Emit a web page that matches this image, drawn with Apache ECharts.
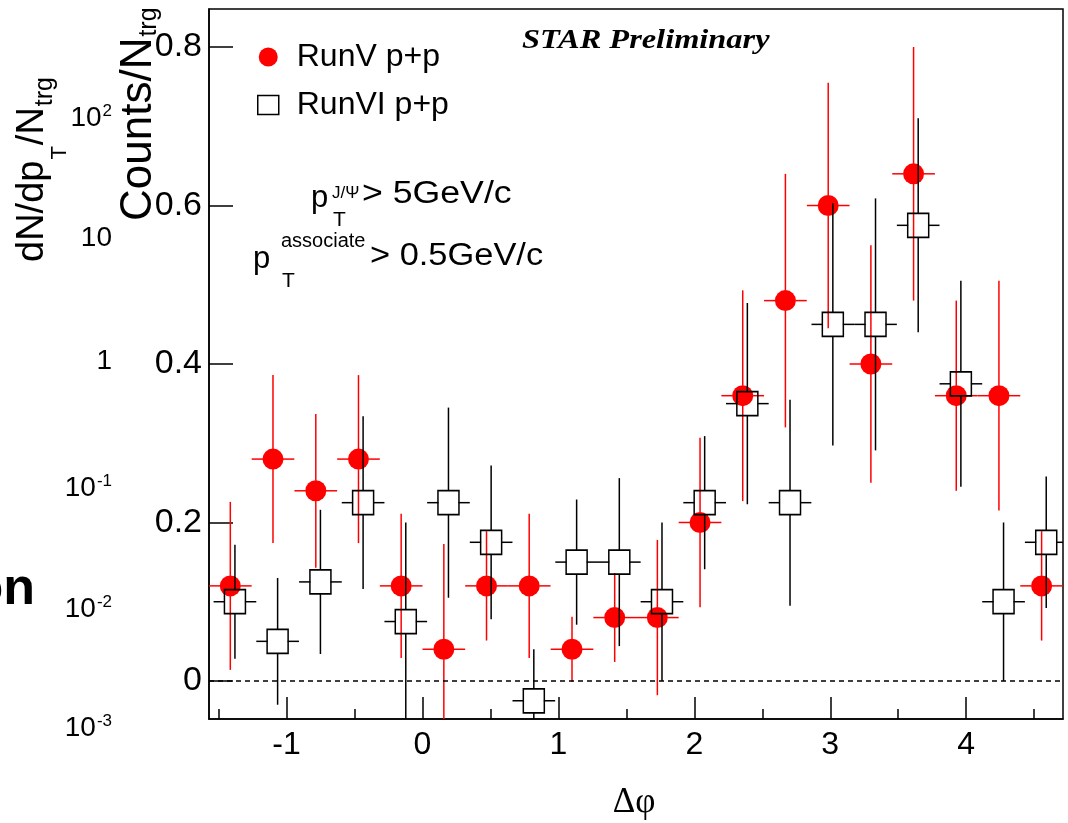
<!DOCTYPE html>
<html>
<head>
<meta charset="utf-8">
<title>J/psi - hadron azimuthal correlation</title>
<script src="https://cdn.jsdelivr.net/npm/echarts@6/dist/echarts.min.js"></script>
<style>
  html, body { margin: 0; padding: 0; background: #fff; }
  #chart { width: 1068px; height: 823px; }
</style>
</head>
<body>
<div id="chart"></div>
<script>
// Delta-phi bin centres and per-trigger counts, with symmetric statistical errors
const phiRunV = [-1.414, -1.100, -0.785, -0.471, -0.157, 0.157, 0.471, 0.785, 1.100, 1.414,
                 1.728, 2.042, 2.356, 2.670, 2.985, 3.299, 3.613, 3.927, 4.241, 4.555];
const countsRunV = [0.12, 0.28, 0.24, 0.28, 0.12, 0.04, 0.12, 0.12, 0.04, 0.08,
                    0.08, 0.20, 0.36, 0.48, 0.60, 0.40, 0.64, 0.36, 0.36, 0.12];
const errRunV = [0.106, 0.106, 0.097, 0.106, 0.091, 0.133, 0.069, 0.091, 0.041, 0.056,
                 0.098, 0.107, 0.133, 0.160, 0.155, 0.150, 0.160, 0.120, 0.145, 0.069];

const phiRunVI = [-1.380, -1.066, -0.751, -0.437, -0.123, 0.191, 0.505, 0.819, 1.134, 1.448,
                  1.762, 2.076, 2.390, 2.704, 3.019, 3.333, 3.647, 3.961, 4.275, 4.589];
const countsRunVI = [0.100, 0.050, 0.125, 0.225, 0.075, 0.225, 0.175, -0.025, 0.150, 0.150,
                     0.100, 0.225, 0.350, 0.225, 0.450, 0.450, 0.575, 0.375, 0.100, 0.175];
const errRunVI = [0.072, 0.080, 0.091, 0.109, 0.125, 0.120, 0.097, 0.065, 0.079, 0.106,
                  0.100, 0.084, 0.127, 0.130, 0.153, 0.159, 0.135, 0.130, 0.100, 0.083];

const binHalfWidth = 0.157;   // half of the pi/10 bin width

// Axis ticks
const xTickValues = [-1, 0, 1, 2, 3, 4];
const xMinorTickValues = [-1.5, -0.5, 0.5, 1.5, 2.5, 3.5, 4.5];
const yTickValues = [0, 0.2, 0.4, 0.6, 0.8];

// Leftover log-scale labels from the neighbouring panel
const logTickBases = ['10', '10', '1', '10', '10', '10'];
const logTickExponents = ['2', '', '', '-1', '-2', '-3'];

const SANS = '"Liberation Sans", Arial, Helvetica, sans-serif';
const SERIF = '"Liberation Serif", "Times New Roman", serif';

const measureCtx = document.createElement('canvas').getContext('2d');
function textWidth(text, font) {
  measureCtx.font = font;
  return measureCtx.measureText(text).width;
}
function fontStr(size, o) {
  o = o || {};
  return (o.style || 'normal') + ' ' + (o.weight || 'normal') + ' ' + size + 'px ' + (o.family || SANS);
}
// Text element placed by its baseline
function label(text, x, baseline, size, o) {
  o = o || {};
  return {
    type: 'text', x: x, y: baseline - 0.33 * size,
    scaleX: o.scaleX || 1, scaleY: o.scaleY || 1, originY: 0.33 * size,
    silent: true, z: 20,
    style: { text: text, font: fontStr(size, o), fill: '#000',
             textAlign: o.align || 'left', textVerticalAlign: 'middle' }
  };
}

// Error bars drawn around each marker, leaving a gap for the marker itself
function errorBarSeries(name, xs, ys, errs, color, gapX, gapY, z) {
  return {
    type: 'custom', name: name, z: z, silent: true, clip: true,
    data: xs.map((x, i) => [x, ys[i], errs[i]]),
    encode: { x: 0, y: 1 },
    renderItem: function (params, api) {
      const x = api.value(0), y = api.value(1), e = api.value(2);
      const cs = params.coordSys;
      const yTop = cs.y, yBot = cs.y + cs.height;
      const c = api.coord([x, y]);
      const up = api.coord([x, y + e]);
      const dn = api.coord([x, y - e]);
      const lf = api.coord([x - binHalfWidth, y]);
      const rt = api.coord([x + binHalfWidth, y]);
      const clampY = v => Math.max(yTop, Math.min(yBot, v));
      const segs = [];
      if (up[1] < c[1] - gapY) segs.push([c[0], c[1] - gapY, c[0], clampY(up[1])]);
      if (dn[1] > c[1] + gapY) segs.push([c[0], c[1] + gapY, c[0], clampY(dn[1])]);
      segs.push([c[0] - gapX, c[1], lf[0], c[1]]);
      segs.push([c[0] + gapX, c[1], rt[0], c[1]]);
      return {
        type: 'group',
        children: segs.map(s => ({
          type: 'line',
          shape: { x1: s[0], y1: s[1], x2: s[2], y2: s[3] },
          style: { stroke: color, lineWidth: 1.5 }
        }))
      };
    }
  };
}

// Free-standing texts
const graphics = [];
graphics.push(label('STAR Preliminary', 522, 50, 27,
  { family: SERIF, weight: 'bold', style: 'italic', scaleX: 1.2 }));

// p_T^{J/Psi} > 5GeV/c
graphics.push(label('p', 311, 209, 31));
graphics.push(label('J/\u03A8', 332, 199, 17));
graphics.push(label('T', 333, 227, 21));
graphics.push(label('> 5GeV/c', 362, 205, 31, { scaleX: 1.15 }));
// p_T^{associate} > 0.5GeV/c
graphics.push(label('p', 253, 270, 31));
graphics.push(label('associate', 281, 248, 20));
graphics.push(label('T', 282, 288, 21));
graphics.push(label('> 0.5GeV/c', 370, 267, 31, { scaleX: 1.11 }));

// x-axis title
graphics.push(label('\u0394\u03C6', 634, 814, 35, { family: SERIF, align: 'center' }));

// y-axis title, rotated
const titleSize = 44;
const wCounts = textWidth('Counts/N', fontStr(titleSize));
graphics.push({
  type: 'group', x: 153, y: 221, rotation: Math.PI / 2, silent: true,
  children: [label('Counts/N', 0, 0, titleSize), label('trg', wCounts + 1, 4, 25)]
});

// Neighbouring panel: dN/dp_T/N_trg title
const lt = 38;
const w1 = textWidth('dN/dp', fontStr(lt));
const w2 = textWidth('T', fontStr(22));
const w3 = textWidth('/N', fontStr(lt));
graphics.push({
  type: 'group', x: 45, y: 262, rotation: Math.PI / 2, silent: true,
  children: [
    label('dN/dp', 0, 0, lt),
    label('T', w1 + 1, 22, 22),
    label('/N', w1 + w2 + 2, 0, lt),
    label('trg', w1 + w2 + w3 + 3, 8, 25)
  ]
});

// Neighbouring panel: log-scale tick labels, right aligned
const logBaselines = [128, 248, 371, 498, 619, 738];
logTickBases.forEach((b, i) => {
  const sup = logTickExponents[i];
  const right = 112;
  const ws = sup ? textWidth(sup, fontStr(17)) : 0;
  if (sup) graphics.push(label(sup, right, logBaselines[i] - 11, 17, { align: 'right' }));
  graphics.push(label(b, right - ws - (sup ? 1 : 0), logBaselines[i], 28, { align: 'right' }));
});
// Neighbouring panel: cut-off bold word
graphics.push(label('on', 35, 607, 52, { weight: 'bold', align: 'right' }));

const option = {
  animation: false,
  backgroundColor: '#fff',
  grid: {
    left: 209, right: 5, top: 9, bottom: 104,
    show: true, borderColor: '#000', borderWidth: 1.5, backgroundColor: 'transparent'
  },
  legend: {
    orient: 'vertical', left: 252, top: 36,
    itemWidth: 21, itemHeight: 19, itemGap: 16,
    selectedMode: false,
    textStyle: { fontSize: 32, fontFamily: SANS, color: '#000', padding: [0, 0, 0, 13] },
    data: [
      { name: 'RunV p+p', icon: 'circle', itemStyle: { color: '#ff0000', borderWidth: 0 } },
      { name: 'RunVI p+p', icon: 'rect',
        itemStyle: { color: 'rgba(255,255,255,0)', borderColor: '#000', borderWidth: 1.5 } }
    ]
  },
  xAxis: [
    {
      type: 'value', min: -Math.PI / 2, max: 1.5 * Math.PI, position: 'bottom',
      axisLine: { show: true, onZero: false, lineStyle: { color: '#000', width: 1.5 } },
      axisTick: { show: true, inside: true, length: 22, customValues: xTickValues,
                  lineStyle: { color: '#000', width: 1.5 } },
      axisLabel: { show: true, customValues: xTickValues, fontSize: 32, fontFamily: SANS,
                   color: '#000', margin: 10 },
      splitLine: { show: false }
    },
    {
      type: 'value', min: -Math.PI / 2, max: 1.5 * Math.PI, position: 'bottom',
      axisLine: { show: false, onZero: false },
      axisTick: { show: true, inside: true, length: 10, customValues: xMinorTickValues,
                  lineStyle: { color: '#000', width: 1.5 } },
      axisLabel: { show: false },
      splitLine: { show: false }
    }
  ],
  yAxis: {
    type: 'value', min: -0.048, max: 0.848, position: 'left',
    axisLine: { show: true, onZero: false, lineStyle: { color: '#000', width: 1.5 } },
    axisTick: { show: true, inside: true, length: 24, customValues: yTickValues,
                lineStyle: { color: '#000', width: 1.5 } },
    axisLabel: { show: true, customValues: yTickValues, fontSize: 34, fontFamily: SANS,
                 color: '#000', margin: 7, formatter: v => String(+v.toFixed(1)) },
    splitLine: { show: false }
  },
  graphic: { elements: graphics },
  series: [
    errorBarSeries('RunV p+p errors', phiRunV, countsRunV, errRunV, '#ff0000', 10, 10, 2),
    {
      type: 'scatter', name: 'RunV p+p', z: 3, silent: true,
      data: phiRunV.map((x, i) => [x, countsRunV[i]]),
      symbol: 'circle', symbolSize: 21,
      itemStyle: { color: '#ff0000', opacity: 1 },
      markLine: {
        silent: true, symbol: ['none', 'none'], label: { show: false },
        lineStyle: { type: [5, 4], color: '#000', width: 1.5 },
        data: [{ yAxis: 0 }]
      }
    },
    errorBarSeries('RunVI p+p errors', phiRunVI, countsRunVI, errRunVI, '#000', 10, 12, 4),
    {
      type: 'scatter', name: 'RunVI p+p', z: 5, silent: true,
      data: phiRunVI.map((x, i) => [x, countsRunVI[i]]),
      symbol: 'rect', symbolSize: [21, 24],
      itemStyle: { color: 'rgba(255,255,255,0)', borderColor: '#000', borderWidth: 1.6, opacity: 1 }
    }
  ]
};

const chart = echarts.init(document.getElementById('chart'), null, { renderer: 'canvas' });
chart.setOption(option);
</script>
</body>
</html>
